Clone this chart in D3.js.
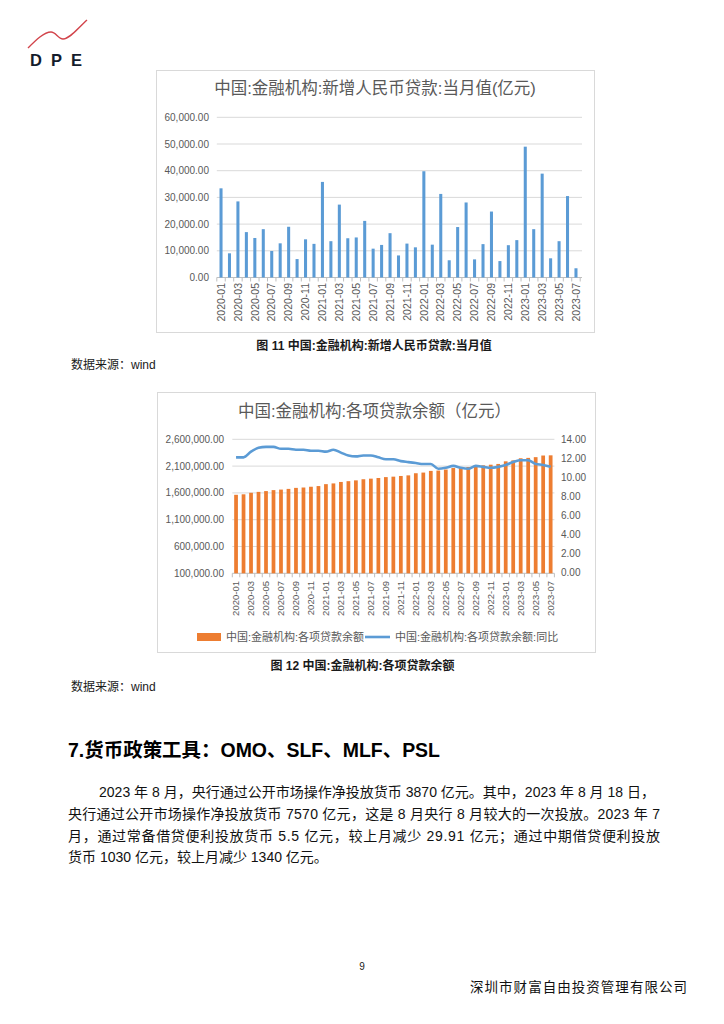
<!DOCTYPE html>
<html>
<head>
<meta charset="utf-8">
<script src="https://cdn.jsdelivr.net/npm/d3@7"></script>
<style>
  body { margin: 0; background: #fff; }
  svg { display: block; }
</style>
</head>
<body>
<div id="page"></div>
<script>
// months shown on both charts
const months = [
  "2020-01","2020-02","2020-03","2020-04","2020-05","2020-06","2020-07","2020-08","2020-09","2020-10","2020-11","2020-12",
  "2021-01","2021-02","2021-03","2021-04","2021-05","2021-06","2021-07","2021-08","2021-09","2021-10","2021-11","2021-12",
  "2022-01","2022-02","2022-03","2022-04","2022-05","2022-06","2022-07","2022-08","2022-09","2022-10","2022-11","2022-12",
  "2023-01","2023-02","2023-03","2023-04","2023-05","2023-06","2023-07"
]

// 新增人民币贷款:当月值 (亿元)
const newLoans = [
  33400, 9057, 28500, 17000, 14800, 18100, 9927, 12800, 19000, 6898, 14300, 12600,
  35800, 13600, 27300, 14700, 15000, 21200, 10800, 12200, 16600, 8262, 12700, 11300,
  39800, 12300, 31300, 6454, 18900, 28100, 6790, 12500, 24700, 6152, 12100, 14000,
  49000, 18100, 38900, 7188, 13600, 30500, 3459
]

// 各项贷款余额 (亿元)
const loanBalance = [
  1564500, 1573600, 1602100, 1619100, 1633900, 1652000, 1661900, 1674700, 1693700, 1700600, 1714900, 1727500,
  1763300, 1776900, 1804200, 1818900, 1833900, 1855100, 1865900, 1878100, 1894700, 1903000, 1915700, 1927000,
  1966800, 1979100, 2010400, 2016800, 2035700, 2063800, 2070600, 2083100, 2107800, 2114000, 2126100, 2140100,
  2189100, 2207200, 2246100, 2253300, 2266900, 2297400, 2300900
]

// 各项贷款余额:同比 (%)
const loanYoY = [
  12.1, 12.1, 12.7, 13.1, 13.2, 13.2, 13.0, 13.0, 12.9, 12.9, 12.8, 12.8,
  12.7, 12.9, 12.6, 12.3, 12.2, 12.3, 12.3, 12.1, 11.9, 11.9, 11.7, 11.6,
  11.5, 11.4, 11.4, 10.9, 11.0, 11.2, 11.0, 10.9, 11.2, 11.1, 11.0, 11.1,
  11.3, 11.6, 11.8, 11.8, 11.4, 11.3, 11.1
]

const newLoanTicks = [0, 10000, 20000, 30000, 40000, 50000, 60000]
const balanceTicks = [100000, 600000, 1100000, 1600000, 2100000, 2600000]
const yoyTicks = [0, 2, 4, 6, 8, 10, 12, 14]

const blue = "#5b9bd5"
const orange = "#ed7d31"
const grey = "#595959"
const grid = "#d9d9d9"
const font = "'Liberation Sans', 'Noto Sans CJK SC', sans-serif"
const fmt = d3.format(",.2f")

const svg = d3.select("#page").append("svg")
  .attr("width", 724)
  .attr("height", 1024)
  .style("font-family", font)

/* HEADER LOGO */
const logo = svg.append("g")
logo.append("path")
  .attr("d", "M28,48 C36,40 44,32 51,32 C56,32 58,39 63,39 C70,39 78,28 87,20")
  .attr("fill", "none")
  .attr("stroke", "#d2444b")
  .attr("stroke-width", 1.4)
logo.append("text")
  .attr("x", 30).attr("y", 66)
  .attr("font-size", 16.5).attr("font-weight", "bold")
  .attr("letter-spacing", 9)
  .attr("fill", "#141c2c")
  .text("DPE")

/* CHART 1 : 新增人民币贷款 */
const c1 = svg.append("g")
c1.append("rect")
  .attr("x", 156.5).attr("y", 70.5).attr("width", 438).attr("height", 262)
  .attr("fill", "#fff").attr("stroke", grid)

c1.append("text")
  .attr("x", 375).attr("y", 94)
  .attr("text-anchor", "middle")
  .attr("font-size", 16.5).attr("fill", grey)
  .text("中国:金融机构:新增人民币贷款:当月值(亿元)")

const x1 = d3.scaleBand()
  .domain(months)
  .range([216.8, 580.2])
  .paddingInner(0.64)
  .paddingOuter(0.32)

const y1 = d3.scaleLinear()
  .domain([0, 60000])
  .range([277.5, 117.3])

c1.append("g").selectAll("line")
  .data(newLoanTicks)
  .join("line")
  .attr("x1", 216.8).attr("x2", 582)
  .attr("y1", d => y1(d)).attr("y2", d => y1(d))
  .attr("stroke", (d, i) => i === 0 ? "#bfbfbf" : grid)

c1.append("g").selectAll("text")
  .data(newLoanTicks)
  .join("text")
  .attr("x", 209).attr("y", d => y1(d))
  .attr("dy", "0.35em")
  .attr("text-anchor", "end")
  .attr("font-size", 10).attr("fill", grey)
  .text(d => fmt(d))

c1.append("g").selectAll("rect")
  .data(newLoans)
  .join("rect")
  .attr("x", (d, i) => x1(months[i]))
  .attr("width", x1.bandwidth())
  .attr("y", d => y1(d))
  .attr("height", d => y1(0) - y1(d))
  .attr("fill", blue)

c1.append("g").selectAll("line")
  .data(months.concat([null]))
  .join("line")
  .attr("x1", (d, i) => 216.8 + i * x1.step())
  .attr("x2", (d, i) => 216.8 + i * x1.step())
  .attr("y1", y1(0)).attr("y2", y1(0) + 4)
  .attr("stroke", "#bfbfbf")

c1.append("g").selectAll("text")
  .data(months.filter((d, i) => i % 2 === 0))
  .join("text")
  .attr("transform", d => `translate(${x1(d) + x1.bandwidth() / 2},283) rotate(-90)`)
  .attr("dy", "0.35em")
  .attr("text-anchor", "end")
  .attr("font-size", 10.5).attr("fill", grey)
  .text(d => d)

svg.append("text")
  .attr("x", 374).attr("y", 349.5)
  .attr("text-anchor", "middle")
  .attr("font-size", 12).attr("font-weight", "bold")
  .attr("fill", "#1a1a1a")
  .text("图  11  中国:金融机构:新增人民币贷款:当月值")

svg.append("text")
  .attr("x", 71).attr("y", 368.5)
  .attr("font-size", 12).attr("fill", "#1a1a1a")
  .text("数据来源：wind")

/* CHART 2 : 各项贷款余额 */
const c2 = svg.append("g")
c2.append("rect")
  .attr("x", 157.5).attr("y", 392.5).attr("width", 438).attr("height", 260)
  .attr("fill", "#fff").attr("stroke", grid)

c2.append("text")
  .attr("x", 374.5).attr("y", 417)
  .attr("text-anchor", "middle")
  .attr("font-size", 16.5).attr("fill", grey)
  .text("中国:金融机构:各项贷款余额（亿元）")

const x2 = d3.scaleBand()
  .domain(months)
  .range([232.3, 554.4])
  .paddingInner(0.5)
  .paddingOuter(0.25)

const y2 = d3.scaleLinear()
  .domain([100000, 2600000])
  .range([573.3, 439.3])

const y2r = d3.scaleLinear()
  .domain([0, 14])
  .range([572.3, 439.3])

c2.append("g").selectAll("line")
  .data(balanceTicks)
  .join("line")
  .attr("x1", 232.3).attr("x2", 554.4)
  .attr("y1", d => y2(d)).attr("y2", d => y2(d))
  .attr("stroke", (d, i) => i === 0 ? "#bfbfbf" : grid)

c2.append("g").selectAll("text")
  .data(balanceTicks)
  .join("text")
  .attr("x", 224).attr("y", d => y2(d))
  .attr("dy", "0.35em")
  .attr("text-anchor", "end")
  .attr("font-size", 10).attr("fill", grey)
  .text(d => fmt(d))

c2.append("g").selectAll("text")
  .data(yoyTicks)
  .join("text")
  .attr("x", 561).attr("y", d => y2r(d))
  .attr("dy", "0.35em")
  .attr("font-size", 10).attr("fill", grey)
  .text(d => fmt(d))

c2.append("g").selectAll("rect")
  .data(loanBalance)
  .join("rect")
  .attr("x", (d, i) => x2(months[i]))
  .attr("width", x2.bandwidth())
  .attr("y", d => y2(d))
  .attr("height", d => y2(100000) - y2(d))
  .attr("fill", orange)

c2.append("g").selectAll("line")
  .data(months.concat([null]))
  .join("line")
  .attr("x1", (d, i) => 232.3 + i * x2.step())
  .attr("x2", (d, i) => 232.3 + i * x2.step())
  .attr("y1", y2(100000)).attr("y2", y2(100000) + 4)
  .attr("stroke", "#bfbfbf")

const line = d3.line()
  .x((d, i) => x2(months[i]) + x2.bandwidth() / 2)
  .y(d => y2r(d))
  .curve(d3.curveMonotoneX)

c2.append("path")
  .datum(loanYoY)
  .attr("d", line)
  .attr("fill", "none")
  .attr("stroke", blue)
  .attr("stroke-width", 2.6)
  .attr("stroke-linejoin", "round")

c2.append("g").selectAll("text")
  .data(months.filter((d, i) => i % 2 === 0))
  .join("text")
  .attr("transform", d => `translate(${x2(d) + x2.bandwidth() / 2},581) rotate(-90)`)
  .attr("dy", "0.35em")
  .attr("text-anchor", "end")
  .attr("font-size", 9.5).attr("fill", grey)
  .text(d => d)

// legend
const legend = c2.append("g")
legend.append("rect")
  .attr("x", 197).attr("y", 633).attr("width", 24).attr("height", 8)
  .attr("fill", orange)
legend.append("text")
  .attr("x", 226).attr("y", 637).attr("dy", "0.35em")
  .attr("font-size", 11).attr("fill", grey)
  .text("中国:金融机构:各项贷款余额")
legend.append("line")
  .attr("x1", 365).attr("x2", 390).attr("y1", 637).attr("y2", 637)
  .attr("stroke", blue).attr("stroke-width", 2.6)
legend.append("text")
  .attr("x", 395).attr("y", 637).attr("dy", "0.35em")
  .attr("font-size", 11).attr("fill", grey)
  .text("中国:金融机构:各项贷款余额:同比")

svg.append("text")
  .attr("x", 362.5).attr("y", 670)
  .attr("text-anchor", "middle")
  .attr("font-size", 12).attr("font-weight", "bold")
  .attr("fill", "#1a1a1a")
  .text("图  12  中国:金融机构:各项贷款余额")

svg.append("text")
  .attr("x", 71).attr("y", 691)
  .attr("font-size", 12).attr("fill", "#1a1a1a")
  .text("数据来源：wind")

/* TEXT SECTION */
svg.append("text")
  .attr("x", 68).attr("y", 757)
  .attr("font-size", 19.5).attr("font-weight", "bold")
  .attr("textLength", 372).attr("lengthAdjust", "spacingAndGlyphs")
  .attr("fill", "#000")
  .text("7.货币政策工具：OMO、SLF、MLF、PSL")

const paragraph = [
  { x: 99, y: 797, w: 556, t: "2023 年 8 月，央行通过公开市场操作净投放货币 3870 亿元。其中，2023 年 8 月 18 日，" },
  { x: 68, y: 819, w: 592, t: "央行通过公开市场操作净投放货币 7570 亿元，这是 8 月央行 8 月较大的一次投放。2023 年 7" },
  { x: 68, y: 841, w: 592, t: "月，通过常备借贷便利投放货币 5.5 亿元，较上月减少 29.91 亿元；通过中期借贷便利投放" },
  { x: 68, y: 862, w: null, t: "货币 1030 亿元，较上月减少 1340 亿元。" }
]

svg.append("g").selectAll("text")
  .data(paragraph)
  .join("text")
  .attr("x", d => d.x).attr("y", d => d.y)
  .attr("font-size", 14).attr("fill", "#111")
  .each(function (d) {
    if (d.w) d3.select(this).attr("textLength", d.w).attr("lengthAdjust", "spacing")
  })
  .text(d => d.t)

/* FOOTER */
svg.append("text")
  .attr("x", 362).attr("y", 970)
  .attr("text-anchor", "middle")
  .attr("font-size", 10).attr("fill", "#222")
  .text("9")

svg.append("text")
  .attr("x", 470).attr("y", 992)
  .attr("font-size", 13.5)
  .attr("textLength", 217).attr("lengthAdjust", "spacing")
  .attr("fill", "#111")
  .text("深圳市财富自由投资管理有限公司")
</script>
</body>
</html>
